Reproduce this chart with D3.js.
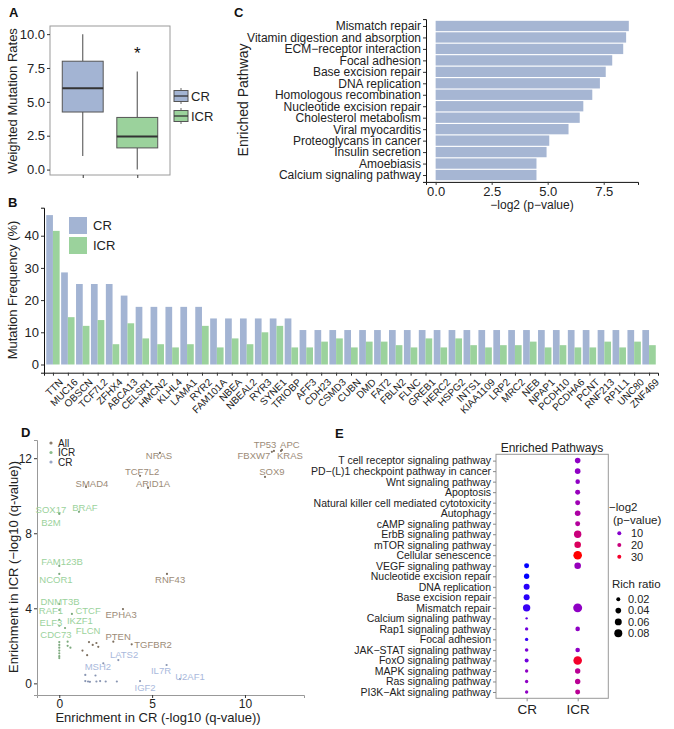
<!DOCTYPE html>
<html><head><meta charset="utf-8">
<script src="https://cdn.jsdelivr.net/npm/d3@7"></script>
<style>body{margin:0;background:#fff} text{font-family:"Liberation Sans",Arial,sans-serif}</style>
</head><body><svg id="c" width="674" height="729"></svg>
<script>
// ---------- Panel A data ----------
const boxGroups = ["CR", "ICR"];
const boxMin = [1.0, 0.0];
const boxQ1 = [4.25, 1.6];
const boxMedian = [6.0, 2.45];
const boxQ3 = [8.0, 3.85];
const boxMax = [10.0, 7.25];
const boxTicks = [0, 2.5, 5, 7.5, 10];
const sigGroup = "ICR", sigValue = 8.85, sigLabel = "*";

// ---------- Panel B data ----------
const genes = ["TTN","MUC16","OBSCN","TCF7L2","ZFHX4","ABCA13","CELSR1","HMCN2","KLHL4","LAMA1","RYR2","FAM101A","NBEA","NBEAL2","RYR3","SYNE1","TRIOBP","AFF3","CDH23","CSMD3","CUBN","DMD","FAT2","FBLN2","FLNC","GREB1","HERC2","HSPG2","INTS1","KIAA1109","LRP2","MRC2","NEB","NPAP1","PCDH10","PCDHA6","PCNT","RNF213","RP1L1","UNC80","ZNF469"];
const crFreq = [46.4,28.6,25.0,25.0,25.0,21.4,17.9,17.9,17.9,17.9,17.9,14.3,14.3,14.3,14.3,14.3,14.3,10.7,10.7,10.7,10.7,10.7,10.7,10.7,10.7,10.7,10.7,10.7,10.7,10.7,10.7,10.7,10.7,10.7,10.7,10.7,10.7,10.7,10.7,10.7,10.7];
const icrFreq = [41.5,14.7,12.0,13.8,6.3,12.8,8.1,6.3,5.3,6.3,12.0,5.3,8.1,6.3,10.0,12.0,5.3,5.3,7.1,8.1,5.3,7.1,7.1,6.0,5.3,8.1,5.3,8.1,6.0,5.3,6.0,6.0,7.1,5.3,6.0,5.3,5.3,7.1,5.3,7.1,6.0];
const bTicks = [0, 10, 20, 30, 40];

// ---------- Panel C data ----------
const pathwaysC = ["Mismatch repair","Vitamin digestion and absorption","ECM\u2212receptor interaction","Focal adhesion","Base excision repair","DNA replication","Homologous recombination","Nucleotide excision repair","Cholesterol metabolism","Viral myocarditis","Proteoglycans in cancer","Insulin secretion","Amoebiasis","Calcium signaling pathway"];
const log2pC = [8.62,8.50,8.37,7.88,7.59,7.33,6.99,6.59,6.43,5.93,5.07,4.95,4.50,4.50];
const cTicks = [0, 2.5, 5, 7.5];

// ---------- Panel D data ----------
const dLabel = ["TP53","APC","FBXW7","KRAS","SOX9","NRAS","TCF7L2","ARID1A","SMAD4","SOX17","BRAF","B2M","FAM123B","NCOR1","RNF43","DNMT3B","RAF1","CTCF","EPHA3","ELF3","IKZF1","FLCN","CDC73","PTEN","TGFBR2","LATS2","MSH2","IL7R","U2AF1","IGF2"];
const dGroup = ["All","All","All","All","All","All","All","All","All","ICR","ICR","ICR","ICR","ICR","All","ICR","ICR","ICR","All","ICR","ICR","ICR","ICR","All","All","CR","CR","CR","CR","CR"];
const dCR = [11.56,11.94,11.45,11.99,11.08,5.42,4.35,4.78,1.44,0,1.06,0,0,0,5.8,0,0,0.68,3.43,0,0.31,0.45,0,2.91,3.9,3.18,2.37,5.78,6.5,4.35];
const dICR = [12.39,12.39,12.34,12.44,11.0,12.28,11.06,10.42,10.47,9.08,9.14,9.03,6.26,5.83,5.83,4.23,3.91,3.70,3.96,3.38,2.95,2.22,3.07,2.22,2.08,1.24,1.07,0.98,0.23,0.12];
const dLabCR = [11.08,12.42,10.48,12.42,11.45,5.37,4.46,5.05,1.76,-0.45,1.38,-0.45,0.15,-0.18,5.97,0.04,-0.45,1.55,3.33,-0.45,1.11,1.55,-0.18,3.17,5.05,3.49,2.08,5.48,7.04,4.62];
const dLabICR = [12.71,12.71,12.12,12.12,11.27,12.12,11.27,10.63,10.63,9.26,9.35,8.58,6.47,5.51,5.51,4.34,3.86,3.86,3.64,3.22,3.32,2.79,2.58,2.47,2.04,1.51,0.87,0.66,0.34,-0.25];
const uGroup = ["ICR","ICR","ICR","ICR","ICR","ICR","ICR","ICR","ICR","All","All","All","All","All","All","CR","CR","CR","CR","CR","CR","CR","CR","CR"];
const uCR = [0,0,0,0,0,0,0,0.45,0.6,1.25,1.5,1.8,2.0,2.1,1.6,1.4,1.95,1.4,1.55,1.65,2.0,2.2,2.5,3.1];
const uICR = [2.2,2.05,1.9,1.75,1.6,1.45,1.35,2.0,1.9,1.75,1.5,2.05,2.15,1.95,2.2,0.45,0.42,0.12,0.1,0.08,0.1,0.12,0.1,0.1];
const dGroups = ["All","ICR","CR"];
const dXTicks = [0, 5, 10], dYTicks = [0, 4, 8, 12];

// ---------- Panel E data ----------
const ePathways = ["T cell receptor signaling pathway","PD\u2212(L)1 checkpoint pathway in cancer","Wnt signaling pathway","Apoptosis","Natural killer cell mediated cytotoxicity","Autophagy","cAMP signaling pathway","ErbB signaling pathway","mTOR signaling pathway","Cellular senescence","VEGF signaling pathway","Nucleotide excision repair","DNA replication","Base excision repair","Mismatch repair","Calcium signaling pathway","Rap1 signaling pathway","Focal adhesion","JAK\u2212STAT signaling pathway","FoxO signaling pathway","MAPK signaling pathway","Ras signaling pathway","PI3K\u2212Akt signaling pathway"];
const eCols = ["CR","ICR"];
const ePath = ["VEGF signaling pathway","Nucleotide excision repair","DNA replication","Base excision repair","Mismatch repair","Calcium signaling pathway","Rap1 signaling pathway","Focal adhesion","JAK\u2212STAT signaling pathway","FoxO signaling pathway","MAPK signaling pathway","Ras signaling pathway","PI3K\u2212Akt signaling pathway",
  "T cell receptor signaling pathway","PD\u2212(L)1 checkpoint pathway in cancer","Wnt signaling pathway","Apoptosis","Natural killer cell mediated cytotoxicity","Autophagy","cAMP signaling pathway","ErbB signaling pathway","mTOR signaling pathway","Cellular senescence","VEGF signaling pathway","Mismatch repair","Rap1 signaling pathway","JAK\u2212STAT signaling pathway","FoxO signaling pathway","MAPK signaling pathway","Ras signaling pathway","PI3K\u2212Akt signaling pathway"];
const eCol = ["CR","CR","CR","CR","CR","CR","CR","CR","CR","CR","CR","CR","CR",
  "ICR","ICR","ICR","ICR","ICR","ICR","ICR","ICR","ICR","ICR","ICR","ICR","ICR","ICR","ICR","ICR","ICR","ICR"];
const eRatio = [0.031,0.036,0.045,0.045,0.068,0.007,0.014,0.014,0.016,0.020,0.014,0.014,0.014,
  0.039,0.039,0.026,0.031,0.031,0.039,0.031,0.068,0.054,0.092,0.054,0.100,0.026,0.026,0.092,0.036,0.036,0.031];
const eLogP = [4,4,4.5,4.5,5,7,8,5,9,8,11,11,11,
  11,11,11,12,13,15,16,20,24,33,12,11,11,11,30,17,17,17];
const eColorLegend = [10, 20, 30];
const eSizeLegend = [0.02, 0.04, 0.06, 0.08];

// ---------- styles ----------
const colCR = "#a3b4d3", colICR = "#9bd29c";
const dColors = {All: "#9c8b77", ICR: "#9bd29c", CR: "#a9b9dc"};
const ink = "#222";
const svg = d3.select("#c");
svg.append("rect").attr("width", 674).attr("height", 729).attr("fill", "#fff");

function panelLabel(t, x, y) {
  svg.append("text").attr("x", x).attr("y", y).text(t)
    .attr("font-size", 13).attr("font-weight", "bold").attr("fill", "#111");
}
function styleAxis(g, fs) {
  g.selectAll("text").attr("font-size", fs).attr("fill", ink)
    .style("font-family", '"Liberation Sans",Arial,sans-serif');
  g.selectAll("line").attr("stroke", "#333");
}

// ================= Panel A =================
panelLabel("A", 9, 17);
{
  const x = d3.scalePoint().domain(boxGroups).range([50, 170]).padding(0.6);
  const y = d3.scaleLinear().domain([-0.4, 10.6]).range([175, 26]);
  const bw = x.step() * 0.75;
  const fills = [colCR, colICR];
  svg.append("rect").attr("x", 50).attr("y", 26).attr("width", 120).attr("height", 149)
    .attr("fill", "none").attr("stroke", "#9a9a9a").attr("stroke-width", 1);
  const ay = svg.append("g").attr("transform", "translate(50,0)")
    .call(d3.axisLeft(y).tickValues(boxTicks).tickFormat(d3.format(".1f")).tickSize(3).tickPadding(2));
  ay.select(".domain").remove(); styleAxis(ay, 13);
  const ax = svg.append("g").attr("transform", "translate(0,175)")
    .call(d3.axisBottom(x).tickSize(3).tickFormat(""));
  ax.select(".domain").remove(); styleAxis(ax, 13);
  boxGroups.forEach((g, i) => {
    const cx = x(g);
    svg.append("line").attr("x1", cx).attr("x2", cx).attr("y1", y(boxMax[i])).attr("y2", y(boxQ3[i]))
      .attr("stroke", "#666").attr("stroke-width", 1.2);
    svg.append("line").attr("x1", cx).attr("x2", cx).attr("y1", y(boxQ1[i])).attr("y2", y(boxMin[i]))
      .attr("stroke", "#666").attr("stroke-width", 1.2);
    svg.append("rect").attr("x", cx - bw / 2).attr("y", y(boxQ3[i])).attr("width", bw)
      .attr("height", y(boxQ1[i]) - y(boxQ3[i])).attr("fill", fills[i]).attr("stroke", "#555").attr("stroke-width", 1);
    svg.append("line").attr("x1", cx - bw / 2).attr("x2", cx + bw / 2).attr("y1", y(boxMedian[i])).attr("y2", y(boxMedian[i]))
      .attr("stroke", "#333").attr("stroke-width", 2);
  });
  svg.append("text").attr("x", x(sigGroup)).attr("y", y(sigValue) + 9).attr("text-anchor", "middle")
    .attr("font-size", 17).attr("fill", "#111").text(sigLabel);
  svg.append("text").attr("transform", "translate(17,101) rotate(-90)").attr("text-anchor", "middle")
    .attr("font-size", 13).attr("fill", ink).text("Weighted Mutation Rates");
  boxGroups.forEach((g, i) => {
    const ky = 96 + i * 20;
    svg.append("line").attr("x1", 181).attr("x2", 181).attr("y1", ky - 8).attr("y2", ky + 8).attr("stroke", "#666");
    svg.append("rect").attr("x", 174).attr("y", ky - 5.5).attr("width", 14).attr("height", 11)
      .attr("fill", fills[i]).attr("stroke", "#555");
    svg.append("line").attr("x1", 174).attr("x2", 188).attr("y1", ky).attr("y2", ky).attr("stroke", "#333").attr("stroke-width", 1.3);
    svg.append("text").attr("x", 191).attr("y", ky + 4.5).attr("font-size", 13).attr("fill", ink).text(g);
  });
}

// ================= Panel C =================
panelLabel("C", 234, 17);
{
  const y = d3.scalePoint().domain(pathwaysC).range([19.1, 181.9]).padding(0.6);
  const x = d3.scaleLinear().domain([-0.43, 9.03]).range([426, 638]);
  const bh = y.step() * 0.9;
  svg.append("g").selectAll("rect").data(pathwaysC).join("rect")
    .attr("x", x(0)).attr("y", d => y(d) - bh / 2)
    .attr("width", (d, i) => x(log2pC[i]) - x(0)).attr("height", bh).attr("fill", "#a6b6d3");
  const ay = svg.append("g").attr("transform", "translate(426,0)")
    .call(d3.axisLeft(y).tickSize(3).tickPadding(2));
  ay.select(".domain").attr("stroke", "#111"); styleAxis(ay, 12);
  const ax = svg.append("g").attr("transform", "translate(0,181.9)")
    .call(d3.axisBottom(x).tickValues(cTicks).tickFormat(d3.format(".1f")).tickSize(3).tickPadding(2));
  ax.select(".domain").attr("stroke", "#111"); styleAxis(ax, 13);
  svg.append("text").attr("x", 532).attr("y", 209).attr("text-anchor", "middle")
    .attr("font-size", 12).attr("fill", ink).text("\u2212log2 (p\u2212value)");
  svg.append("text").attr("transform", "translate(248,100) rotate(-90)").attr("text-anchor", "middle")
    .attr("font-size", 14).attr("fill", ink).text("Enriched Pathway");
}

// ================= Panel B =================
panelLabel("B", 8, 207);
{
  const x = d3.scalePoint().domain(genes).range([44, 658]).padding(0.6);
  const y = d3.scaleLinear().domain([-2.55, 48.7]).range([372.7, 207.7]);
  const bw = x.step() * 0.45;
  const g = svg.append("g");
  g.selectAll("rect.cr").data(genes).join("rect").attr("class", "cr")
    .attr("x", d => x(d) - bw).attr("width", bw)
    .attr("y", (d, i) => y(crFreq[i])).attr("height", (d, i) => y(0) - y(crFreq[i])).attr("fill", colCR);
  g.selectAll("rect.icr").data(genes).join("rect").attr("class", "icr")
    .attr("x", d => x(d)).attr("width", bw)
    .attr("y", (d, i) => y(icrFreq[i])).attr("height", (d, i) => y(0) - y(icrFreq[i])).attr("fill", colICR);
  const ay = svg.append("g").attr("transform", "translate(44,0)")
    .call(d3.axisLeft(y).tickValues(bTicks).tickSize(3).tickPadding(2));
  ay.select(".domain").attr("stroke", "#111"); styleAxis(ay, 13);
  const ax = svg.append("g").attr("transform", "translate(0,372.7)")
    .call(d3.axisBottom(x).tickSize(3));
  ax.select(".domain").attr("stroke", "#111"); styleAxis(ax, 10);
  ax.selectAll(".tick text").attr("text-anchor", "end")
    .attr("transform", "translate(3,3) rotate(-45)").attr("dy", "0.71em").attr("y", 3).attr("x", 0);
  svg.append("text").attr("transform", "translate(17,290) rotate(-90)").attr("text-anchor", "middle")
    .attr("font-size", 13).attr("fill", ink).text("Mutation Frequency (%)");
  [["CR", colCR], ["ICR", colICR]].forEach(([t, c], i) => {
    svg.append("rect").attr("x", 69).attr("y", 217 + i * 20).attr("width", 18).attr("height", 17).attr("fill", c);
    svg.append("text").attr("x", 93).attr("y", 230 + i * 20).attr("font-size", 13).attr("fill", ink).text(t);
  });
}

// ================= Panel D =================
panelLabel("D", 21, 437);
{
  const x = d3.scaleLinear().domain([-1.2, 13.18]).range([37, 304]);
  const y = d3.scaleLinear().domain([-0.62, 12.97]).range([695, 440]);
  const ax = svg.append("g").attr("transform", "translate(0,695)")
    .call(d3.axisBottom(x).tickValues(dXTicks).tickSize(3).tickPadding(1));
  ax.select(".domain").attr("stroke", "#999"); styleAxis(ax, 12);
  const ay = svg.append("g").attr("transform", "translate(37,0)")
    .call(d3.axisLeft(y).tickValues(dYTicks).tickSize(3).tickPadding(2));
  ay.select(".domain").attr("stroke", "#999"); styleAxis(ay, 12);
  svg.append("g").selectAll("circle").data(uCR).join("circle")
    .attr("cx", d => x(d)).attr("cy", (d, i) => y(uICR[i])).attr("r", 1.1)
    .attr("fill", (d, i) => d3.color(dColors[uGroup[i]]).darker(0.6));
  svg.append("g").selectAll("circle").data(dLabel).join("circle")
    .attr("cx", (d, i) => x(dCR[i])).attr("cy", (d, i) => y(dICR[i])).attr("r", 1.1)
    .attr("fill", (d, i) => d3.color(dColors[dGroup[i]]).darker(0.6));
  svg.append("g").selectAll("text").data(dLabel).join("text")
    .attr("x", (d, i) => x(dLabCR[i])).attr("y", (d, i) => y(dLabICR[i])).attr("dy", "0.35em")
    .attr("text-anchor", "middle").attr("font-size", 9.5).attr("fill", (d, i) => dColors[dGroup[i]]).text(d => d);
  dGroups.forEach((g, i) => {
    svg.append("circle").attr("cx", 51).attr("cy", 443 + i * 9.5).attr("r", 1.6).attr("fill", d3.color(dColors[g]).darker(0.3));
    svg.append("text").attr("x", 58).attr("y", 443 + i * 9.5).attr("dy", "0.35em").attr("font-size", 10).attr("fill", ink).text(g);
  });
  svg.append("text").attr("transform", "translate(18,567) rotate(-90)").attr("text-anchor", "middle")
    .attr("font-size", 13).attr("fill", ink).text("Enrichment in ICR (\u2212log10 (q-value))");
  svg.append("text").attr("x", 158).attr("y", 722).attr("text-anchor", "middle")
    .attr("font-size", 13).attr("fill", ink).text("Enrichment in CR (-log10 (q-value))");
}

// ================= Panel E =================
panelLabel("E", 335, 438);
{
  const x = d3.scalePoint().domain(eCols).range([496, 608.3]).padding(0.6);
  const y = d3.scalePoint().domain(ePathways).range([454.3, 698.3]).padding(0.6);
  const color = d3.scaleLinear().domain([4, 33]).range(["#0000ff", "#ff0000"]).interpolate(d3.interpolateLab).clamp(true);
  const r = d3.scaleSqrt().domain([0, 0.08]).range([0, 4]);
  svg.append("rect").attr("x", 496).attr("y", 454.3).attr("width", 112.3).attr("height", 244)
    .attr("fill", "none").attr("stroke", "#999");
  const ay = svg.append("g").attr("transform", "translate(496,0)")
    .call(d3.axisLeft(y).tickSize(3).tickPadding(2));
  ay.select(".domain").remove(); styleAxis(ay, 10.5);
  ay.selectAll("line").attr("stroke", "#888");
  const ax = svg.append("g").attr("transform", "translate(0,698.3)")
    .call(d3.axisBottom(x).tickSize(3).tickPadding(3));
  ax.select(".domain").remove(); styleAxis(ax, 13.5);
  ax.selectAll("line").attr("stroke", "#888");
  svg.append("g").selectAll("circle").data(ePath).join("circle")
    .attr("cx", (d, i) => x(eCol[i])).attr("cy", d => y(d))
    .attr("r", (d, i) => r(eRatio[i])).attr("fill", (d, i) => color(eLogP[i]));
  svg.append("text").attr("x", 552).attr("y", 452).attr("text-anchor", "middle")
    .attr("font-size", 12).attr("fill", ink).text("Enriched Pathways");
  svg.append("text").attr("x", 609).attr("y", 511).attr("font-size", 11.5).attr("fill", ink).text("\u2212log2");
  svg.append("text").attr("x", 613).attr("y", 524).attr("font-size", 11.5).attr("fill", ink).text("(p\u2212value)");
  eColorLegend.forEach((v, i) => {
    const cy = 533.3 + i * 11.7;
    svg.append("circle").attr("cx", 619.3).attr("cy", cy).attr("r", 2).attr("fill", color(v));
    svg.append("text").attr("x", 631).attr("y", cy).attr("dy", "0.35em").attr("font-size", 11).attr("fill", ink).text(v);
  });
  svg.append("text").attr("x", 612).attr("y", 588).attr("font-size", 11.5).attr("fill", ink).text("Rich ratio");
  eSizeLegend.forEach((v, i) => {
    const cy = 599.3 + i * 11.3;
    svg.append("circle").attr("cx", 618.3).attr("cy", cy).attr("r", r(v)).attr("fill", "#000");
    svg.append("text").attr("x", 628).attr("y", cy).attr("dy", "0.35em").attr("font-size", 11).attr("fill", ink).text(v.toFixed(2));
  });
}
</script></body></html>
